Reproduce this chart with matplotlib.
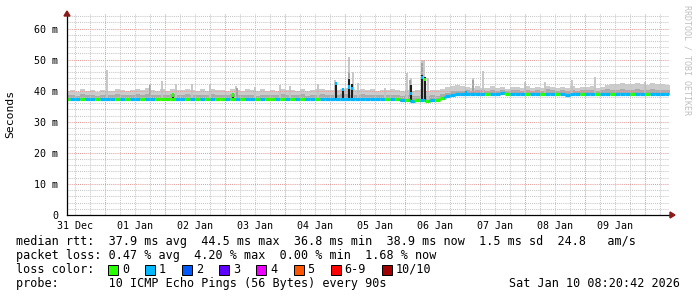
import numpy as np
import matplotlib
matplotlib.use('Agg')
import matplotlib.pyplot as plt
from matplotlib.collections import LineCollection
from matplotlib.patches import Rectangle, Polygon

W, H, DPI = 697, 297, 100
MONO = 'DejaVu Sans Mono'

# ---------------- data (time in hours since 2025-12-31 00:00, values in ms) ----------------
bin_start = 8.0
bin_hours = 2.0

med = [37.3,37.3,37.4,37.3,37.3,37.2,37.3,37.3,37.4,37.3,
       37.3,37.3,37.2,37.3,37.3,37.4,37.3,37.3,37.3,37.3,
       37.4,37.3,37.3,37.3,37.3,37.3,37.2,37.3,37.3,37.3,
       37.3,37.4,37.3,37.3,37.3,37.3,37.3,37.2,37.3,37.3,
       37.3,37.3,37.3,37.4,37.3,37.3,37.3,37.3,37.2,37.3,
       37.3,37.3,37.3,37.4,37.3,37.3,37.3,37.3,37.3,37.3,
       37.3,37.3,37.3,37.3,37.2,37.3,37.2,36.9,36.9,36.8,
       36.9,36.9,36.8,36.9,37.0,37.6,38.3,38.7,38.8,38.8,
       38.9,39.0,39.0,39.0,39.0,39.0,39.0,39.1,39.0,39.0,
       39.0,39.0,39.0,39.0,39.0,39.0,38.9,39.0,39.0,39.0,
       38.7,39.0,39.0,39.0,39.0,39.0,39.0,39.0,39.0,39.0,
       39.0,39.0,39.0,39.0,39.0,39.0,39.0,39.0,39.0,39.0,39.0]

loss = [0,1,1,0,1,1,0,1,1,1,
        0,1,0,1,1,0,1,1,0,0,
        0,0,1,1,0,1,0,1,0,1,
        0,0,1,0,1,0,1,1,0,1,
        0,0,1,0,1,0,1,0,1,1,
        0,1,1,1,1,1,1,1,1,1,
        1,1,1,1,0,1,0,1,0,1,
        0,1,0,1,0,0,1,1,1,1,
        1,1,1,1,0,1,1,1,0,1,
        1,1,0,1,1,0,1,1,0,1,
        1,1,1,0,1,1,0,1,1,0,
        1,1,1,0,1,1,0,1,1,1,1]

smoke_mid = [38.5,38.7,38.4,38.8,38.6,38.5,38.4,38.7,38.6,38.5,
             38.8,38.6,38.5,38.7,38.9,38.6,39.0,38.7,38.5,38.7,
             38.6,38.9,38.7,38.6,38.8,38.6,38.5,38.7,38.5,38.8,
             38.6,38.7,38.5,38.8,38.6,38.5,38.7,38.6,38.4,38.7,
             38.5,38.6,38.5,38.8,38.6,38.7,38.5,38.8,38.4,38.6,
             38.7,38.9,38.6,38.7,38.6,38.8,39.0,38.7,38.6,38.8,
             38.6,38.7,38.5,38.7,38.5,38.7,38.6,38.3,38.5,38.3,
             38.4,38.6,38.3,38.5,38.4,38.8,39.4,39.8,40.0,39.9,
             40.1,40.0,40.2,40.1,39.9,40.3,40.0,40.2,39.9,40.1,
             40.1,40.0,40.3,39.9,40.2,40.0,40.4,40.1,40.0,40.2,
             40.0,40.3,39.9,40.2,40.1,40.3,40.0,40.2,40.4,40.1,
             40.3,40.5,40.2,40.1,40.4,40.3,40.1,40.4,40.2,40.3,40.1]

smoke_top = [39.8,40.2,39.7,40.4,39.9,40.1,39.6,40.3,40.0,39.8,
             40.5,40.1,39.9,40.3,40.6,40.2,40.8,40.3,39.9,40.4,
             40.0,40.6,40.2,40.1,40.7,40.2,40.0,40.4,39.9,40.5,
             40.1,40.3,39.9,40.6,40.2,40.0,40.4,40.1,39.8,40.4,
             40.0,40.2,39.9,40.5,40.1,40.3,40.0,40.5,39.8,40.2,
             40.4,40.6,40.1,40.3,40.2,40.5,40.8,40.4,40.3,40.6,
             40.2,40.4,40.0,40.3,40.1,40.4,40.2,39.9,40.3,40.0,
             40.2,40.4,39.9,40.3,40.2,40.6,41.2,41.6,41.9,41.4,
             41.3,40.9,41.4,41.0,40.8,41.5,41.0,41.2,40.7,41.3,
             41.1,40.9,41.4,40.8,41.2,41.0,41.6,41.1,40.9,41.3,
             41.0,41.4,40.8,41.2,41.1,41.5,40.9,41.3,41.8,42.0,
             42.2,42.6,42.3,42.0,42.5,42.2,41.9,42.4,42.1,42.3,41.9]

# narrow light-grey smoke spikes
grey_spike_h   = [24.8, 42.0, 46.8, 52.4, 58.8, 66.0, 76.4, 84.0, 94.0, 98.0, 109.2,
                  116.0, 121.6, 123.2, 125.2, 136.0, 144.8, 146.4, 150.8, 151.6, 153.2,
                  171.2, 175.2, 192.0, 200.0, 210.8, 220.0, 240.0]
grey_spike_top = [46.6, 42.0, 43.0, 42.0, 42.0, 42.0, 41.5, 41.2, 41.8, 41.5, 42.2,
                  43.5, 50.8, 46.0, 42.5, 41.0, 45.7, 44.0, 50.0, 50.0, 44.0,
                  44.0, 46.3, 42.8, 42.8, 43.4, 44.4, 42.8]
# darker grey smoke spikes
mid_spike_h   = [42.0, 76.8, 121.6, 146.0, 150.8, 171.2]
mid_spike_top = [41.8, 41.0, 46.0, 43.5, 49.0, 43.5]
# dense (black) smoke with the median jumping up
black_h    = [51.2, 75.2, 116.4, 119.2, 121.6, 122.8, 146.4, 150.8, 152.0, 168.4]
black_top  = [38.8, 38.8, 42.4, 40.8, 43.7, 42.0, 41.8, 45.0, 44.5, 39.6]
peak_med   = [38.6, 38.6, 42.2, 40.3, 41.2, 40.8, 39.2, 44.2, 43.6, 39.4]
peak_loss  = [0, 0, 1, 1, 1, 1, 1, 1, 0, 1]

loss_labels = ['0', '1', '2', '3', '4', '5', '6-9', '10/10']
loss_colors = ['#26ff00', '#00b8ff', '#0059ff', '#5e00ff', '#ee00ff', '#ff5500', '#ff0000', '#a00000']

y_ticks = [0, 10, 20, 30, 40, 50, 60]
day_labels = ['31 Dec', '01 Jan', '02 Jan', '03 Jan', '04 Jan', '05 Jan', '06 Jan', '07 Jan', '08 Jan', '09 Jan']

row_rtt = "median rtt:  37.9 ms avg  44.5 ms max  36.8 ms min  38.9 ms now  1.5 ms sd  24.8   am/s"
row_loss = "packet loss: 0.47 % avg  4.20 % max  0.00 % min  1.68 % now"
row_probe = "probe:       10 ICMP Echo Pings (56 Bytes) every 90s"
stamp = "Sat Jan 10 08:20:42 2026"

# ---------------- figure ----------------
fig = plt.figure(figsize=(W / DPI, H / DPI), dpi=DPI)
fig.patch.set_facecolor('white')
ax = fig.add_axes([67 / W, 1 - 215 / H, 602 / W, 202 / H])
ax.set_facecolor('white')
ax.set_xlim(8.8, 249.6)
ax.set_ylim(0, 65)

med_a = np.array(med)
n = len(med_a)
edges = bin_start + bin_hours * np.arange(n + 1)
mid_a = np.array(smoke_mid)
top_a = np.array(smoke_top)
base = med_a - 0.4

def ext(a):
    return np.append(a, a[-1])

ax.fill_between(edges, ext(base), ext(top_a), step='post', color='#cccccc', lw=0, zorder=1)
ax.fill_between(edges, ext(base), ext(mid_a), step='post', color='#ababab', lw=0, zorder=1.2)

def med_at(h):
    idx = np.clip(((np.asarray(h) - bin_start) // bin_hours).astype(int), 0, n - 1)
    return med_a[idx]

ax.vlines(grey_spike_h, med_at(grey_spike_h), grey_spike_top, colors='#c4c4c4', lw=1.3, zorder=1.5)
ax.vlines(mid_spike_h, med_at(mid_spike_h), mid_spike_top, colors='#a0a0a0', lw=1.3, zorder=1.6)
ax.vlines(black_h, med_at(black_h) - 0.4, black_top, colors='#1e1e1e', lw=1.5, zorder=2)

# median line coloured by loss
segs, cols = [], []
for i in range(n):
    segs.append([(edges[i], med_a[i]), (edges[i + 1], med_a[i])])
    cols.append(loss_colors[loss[i]])
    if i + 1 < n and med_a[i + 1] != med_a[i]:
        segs.append([(edges[i + 1], med_a[i]), (edges[i + 1], med_a[i + 1])])
        cols.append(loss_colors[loss[i + 1]])
lc = LineCollection(segs, colors=cols, linewidths=2.3, capstyle='butt', zorder=3)
ax.add_collection(lc)
ax.vlines(black_h, np.array(peak_med) - 0.5, np.array(peak_med) + 0.5,
          colors=[loss_colors[k] for k in peak_loss], lw=1.5, zorder=3.5)

# grid (over the smoke, under the median line)
dot = (0, (1, 1))
GZ = 1.8
for v in np.arange(2, 65, 2):
    if v % 10:
        ax.axhline(v, color='#c8c8c8', lw=0.75, ls=dot, zorder=GZ)
for v in np.arange(12, 250, 6):
    if v % 24:
        ax.axvline(v, color='#c8c8c8', lw=0.75, ls=dot, zorder=GZ)
for v in y_ticks[1:]:
    ax.axhline(v, color='#e4a0a0', lw=0.75, ls=dot, zorder=GZ + 0.05)
for v in np.arange(24, 250, 24):
    ax.axvline(v, color='#e4a0a0', lw=0.75, ls=dot, zorder=GZ + 0.05)

for s in ['top', 'right']:
    ax.spines[s].set_visible(False)
for s in ['left', 'bottom']:
    ax.spines[s].set_color('black')
    ax.spines[s].set_linewidth(0.9)
    ax.spines[s].set_zorder(6)

ax.set_yticks(y_ticks)
ax.set_yticklabels(['0' if v == 0 else f'{v} m' for v in y_ticks])
ax.set_xticks(12 + 24 * np.arange(len(day_labels)))
ax.set_xticklabels(day_labels)
ax.tick_params(length=0, labelsize=7.2, colors='black')
ax.tick_params(axis='y', pad=6.5)
ax.tick_params(axis='x', pad=4.0)
for lab in ax.get_xticklabels() + ax.get_yticklabels():
    lab.set_fontfamily(MONO)

# axis arrows
arrow_col = '#8b1a1a'
ax.add_patch(Polygon([(0, 1.0 + 2 / 202), (-3 / 602, 1.0 - 3 / 202), (3 / 602, 1.0 - 3 / 202)],
                     closed=True, transform=ax.transAxes, color=arrow_col, clip_on=False, zorder=7))
ax.add_patch(Polygon([(1.0 + 6 / 602, 0), (1.0 + 1 / 602, 3 / 202), (1.0 + 1 / 602, -3 / 202)],
                     closed=True, transform=ax.transAxes, color=arrow_col, clip_on=False, zorder=7))
ax.plot([1.0, 1.0 + 2 / 602], [0, 0], transform=ax.transAxes, color='black', lw=0.9, clip_on=False)

fig.text(10 / W, 1 - 114 / H, 'Seconds', rotation=90, ha='center', va='center',
         fontsize=8.2, family=MONO, color='black')
fig.text(687 / W, 1 - 60 / H, 'RRDTOOL / TOBI OETIKER', rotation=270, ha='center', va='center',
         fontsize=6.0, family=MONO, color='#c0c0c0')

# legend rows
FS = 8.5
def row_text(x, y, s, **kw):
    fig.text(x / W, 1 - y / H, s, ha='left', va='center', fontsize=FS, family=MONO, color='black', **kw)

row_text(16, 241.5, row_rtt)
row_text(16, 255.5, row_loss)
row_text(16, 269.5, 'loss color:')
row_text(16, 283.5, row_probe)
fig.text(680 / W, 1 - 283.5 / H, stamp, ha='right', va='center', fontsize=FS, family=MONO, color='black')

cw = 7.1
bx = 108.0
for lab, col in zip(loss_labels, loss_colors):
    fig.patches.append(Rectangle((bx / W, 1 - 274.5 / H), 10 / W, 10 / H, transform=fig.transFigure,
                                 facecolor=col, edgecolor='black', lw=0.7))
    row_text(bx + 14, 269.5, lab)
    bx += 14 + len(lab) * cw + 16

fig.savefig('out.png', dpi=DPI, facecolor='white')
